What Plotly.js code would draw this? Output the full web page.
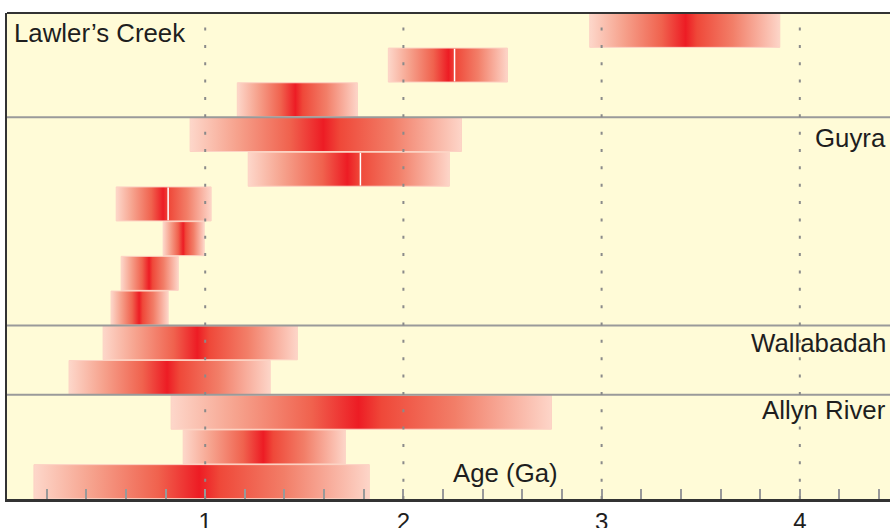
<!DOCTYPE html>
<html><head><meta charset="utf-8">
<script src="https://cdn.plot.ly/plotly-3.0.1.min.js"></script>
<style>html,body{margin:0;padding:0;background:#fff}#chart{width:890px;height:528px}</style>
</head><body><div id="chart"></div>
<script>
// Age ranges (Ga) for each row, top to bottom
const rowStart = [2.94, 1.924, 1.162, 0.924, 1.217, 0.551, 0.788, 0.576, 0.525, 0.485, 0.313, 0.828, 0.889, 0.136];
const rowPeak  = [3.424, 2.227, 1.455, 1.596, 1.717, 0.788, 0.889, 0.717, 0.667, 0.960, 0.808, 1.773, 1.293, 0.970];
const rowEnd   = [3.899, 2.525, 1.768, 2.293, 2.232, 1.030, 0.995, 0.864, 0.813, 1.465, 1.328, 2.747, 1.707, 1.828];
// White marker lines
const markRow = [1, 4, 5];
const markAge = [2.258, 1.783, 0.813];
// Groups
const groupNames = ["Lawler’s Creek", "Guyra", "Wallabadah", "Allyn River"];
const groupFirstRow = [0, 3, 9, 11];
// Axis
const tickVals = [1, 2, 3, 4];
const tickText = ["1", "2", "3", "4"];
const axisTitle = "Age (Ga)";

const FONT = "Liberation Sans, Arial, Helvetica, sans-serif";
const H = 0.49;
const EDGE_L = "#fdd7ca", EDGE_R = "#fdd5c8", RED = "#ed1c24";

function scale(s, p, e) {
  const f = (p - s) / (e - s);
  const r = 1 - f;
  return [
    [0, EDGE_L],
    [f * 0.35, "#f6a28d"],
    [f * 0.75, "#f0624e"],
    [f, RED],
    [f + r * 0.12, "#ef4839"],
    [f + r * 0.5, "#f27e68"],
    [1, EDGE_R]
  ];
}

const traces = [];
rowStart.forEach((s, i) => {
  const e = rowEnd[i], p = rowPeak[i];
  traces.push({
    type: "scatter", mode: "lines",
    x: [s, e, e, s, s],
    y: [i - H, i - H, i + H, i + H, i - H],
    fill: "toself",
    fillgradient: { type: "horizontal", start: s, stop: e, colorscale: scale(s, p, e) },
    line: { color: "#fcd2c4", width: 1 },
    hoverinfo: "skip", showlegend: false
  });
});
markRow.forEach((r, k) => {
  traces.push({
    type: "scatter", mode: "lines",
    x: [markAge[k], markAge[k]], y: [r - H + 0.02, r + H - 0.02],
    line: { color: "#ffffff", width: 1.5 },
    hoverinfo: "skip", showlegend: false
  });
});

const shapes = [];
// separators between groups
groupFirstRow.slice(1).forEach(r => {
  shapes.push({ type: "line", xref: "paper", yref: "y", x0: 0, x1: 1, y0: r - 0.5, y1: r - 0.5,
    line: { color: "#9a9a9a", width: 2 }, layer: "above" });
});
// dotted vertical gridlines above bars
tickVals.forEach(v => {
  shapes.push({ type: "line", xref: "x", yref: "paper", x0: v, x1: v, y0: 0, y1: 1,
    line: { color: "#8a8a8a", width: 2, dash: "3px,14.35px" }, layer: "above" });
});
// top border
shapes.push({ type: "line", xref: "paper", yref: "paper", x0: 0, x1: 1, y0: 1, y1: 1,
  line: { color: "#333", width: 2 }, layer: "above" });

const labelPos = [
  { x: 0, y: 0.08, xanchor: "left", xshift: 5 },
  { x: 1, y: 3.1, xanchor: "right", xshift: -2 },
  { x: 1, y: 9.0, xanchor: "right", xshift: -2 },
  { x: 1, y: 10.94, xanchor: "right", xshift: -2 }
];
const annotations = groupNames.map((t, k) => ({
  text: t, xref: "paper", yref: "y", x: labelPos[k].x, y: labelPos[k].y,
  xanchor: labelPos[k].xanchor, yanchor: "middle", xshift: labelPos[k].xshift,
  showarrow: false, font: { family: FONT, size: 25.8, color: "#1e1e1e" }
}));
annotations.push({ text: axisTitle, xref: "x", yref: "y", x: 2.24, y: 12.75,
  xanchor: "left", yanchor: "middle", showarrow: false,
  font: { family: FONT, size: 25.8, color: "#1e1e1e" } });

const layout = {
  width: 890, height: 528,
  margin: { l: 7, r: 0, t: 13, b: 29, pad: 0 },
  paper_bgcolor: "#ffffff", plot_bgcolor: "#fffbd7",
  xaxis: {
    range: [0, 4.455], tickvals: tickVals, ticktext: tickText,
    ticks: "inside", ticklen: 10, tickwidth: 2, tickcolor: "#999",
    minor: { dtick: 0.2, tick0: 0, ticks: "inside", ticklen: 10, tickwidth: 2, tickcolor: "#999", showgrid: false },
    showgrid: false, zeroline: false,
    showline: true, linecolor: "#333", linewidth: 2.5,
    tickfont: { family: FONT, size: 24, color: "#1e1e1e" },
    layer: "above traces", fixedrange: true
  },
  yaxis: {
    range: [13.5, -0.5], showticklabels: false, ticks: "", showgrid: false, zeroline: false,
    showline: true, linecolor: "#333", linewidth: 2, layer: "above traces", fixedrange: true
  },
  shapes: shapes, annotations: annotations, showlegend: false
};

Plotly.newPlot("chart", traces, layout, { displayModeBar: false, staticPlot: true });
</script>
</body></html>
